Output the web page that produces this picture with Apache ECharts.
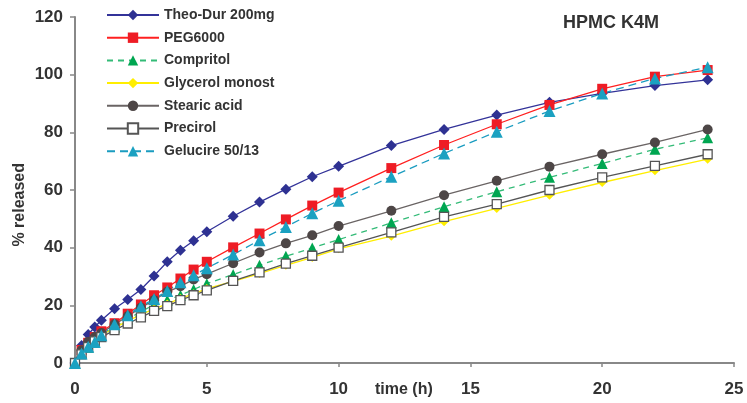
<!DOCTYPE html>
<html>
<head>
<meta charset="utf-8">
<script src="https://cdn.jsdelivr.net/npm/echarts@6/dist/echarts.min.js"></script>
<style>html,body{margin:0;padding:0;background:#fff}#c{width:747px;height:403px}</style>
</head>
<body>
<div id="c"></div>
<script>
const time = [0,0.25,0.5,0.75,1,1.5,2,2.5,3,3.5,4,4.5,5,6,7,8,9,10,12,14,16,18,20,22,24];
const theoDur = [0,6.1,9.9,12.5,14.8,18.8,22.0,25.5,30.2,35.1,39.1,42.4,45.5,50.9,55.8,60.3,64.6,68.2,75.4,81.0,86.0,90.4,93.5,96.2,98.2];
const peg6000 = [0,4.5,7.0,9.0,11.0,13.8,17.1,20.3,23.5,26.2,29.3,32.4,35.1,40.1,44.9,49.8,54.6,59.1,67.6,75.6,82.8,89.5,95.1,99.3,101.6];
const compritol = [0,3.5,5.5,7.5,9.5,12.5,15.2,17.8,20.2,21.8,23.5,25.5,27.5,30.7,33.9,37.0,39.9,42.8,48.6,54.2,59.4,64.4,69.2,74.1,78.1];
const glycerol = [0,3.8,6.2,8.2,9.8,12.2,14.6,16.8,18.8,20.5,22.4,24.0,25.8,28.3,31.0,33.9,36.6,39.6,44.0,49.0,53.6,58.2,62.6,66.7,70.7];
const stearic = [0,4.4,7.3,9.0,10.4,13.4,16.2,19.2,21.8,24.7,26.6,29.0,30.8,34.6,38.3,41.5,44.3,47.5,52.8,58.2,63.2,68.1,72.4,76.5,81.0];
const precirol = [0,3.0,5.5,7.5,9.0,11.4,13.7,15.8,18.1,19.7,21.8,23.5,25.2,28.5,31.4,34.5,37.2,40.0,45.3,50.7,55.1,60.0,64.4,68.4,72.4];
const gelucire = [0,3.3,5.6,7.3,9.6,13.4,16.6,19.7,22.2,25.0,28.0,30.4,32.9,37.6,42.6,47.2,51.9,56.3,64.6,72.7,80.2,87.4,93.5,98.7,102.6];
const seriesNames = ['Theo-Dur 200mg','PEG6000','Compritol','Glycerol monost','Stearic acid','Precirol','Gelucire 50/13'];
const xTicks = [0,5,10,15,20,25];
const yTicks = [0,20,40,60,80,100,120];

function pairs(v){ return time.map((t,i)=>[t,v[i]]); }
const txt = '#333333';
const font = 'Liberation Sans, Arial, sans-serif';

const chart = echarts.init(document.getElementById('c'), null, {renderer:'canvas'});
function mk(name, data, lineColor, lineType, symbol, size, fill, border){
  return {
    name, type:'line', data: pairs(data), symbol, symbolSize: size,
    lineStyle:{color:lineColor, width:1.3, type:lineType},
    itemStyle:{color:fill, borderColor:border||fill, borderWidth: border?1.3:0},
    emphasis:{disabled:true}, animation:false
  };
}
chart.setOption({
  animation:false,
  backgroundColor:'#fff',
  grid:{left:75,right:13,top:17,bottom:40,containLabel:false,outerBoundsMode:'none'},
  title:{text:'HPMC K4M', left:558, top:9, textStyle:{fontFamily:font,fontSize:18,fontWeight:'bold',color:txt}},
  legend:{
    orient:'vertical', left:101, top:3, itemWidth:52, itemHeight:13, itemGap:8.7,
    textStyle:{fontFamily:font,fontSize:14,fontWeight:'bold',color:txt},
    data: seriesNames
  },
  xAxis:{
    type:'value', min:xTicks[0], max:xTicks[xTicks.length-1], interval:5,
    axisLine:{lineStyle:{color:'#888',width:2}},
    axisTick:{show:true,length:4,lineStyle:{color:'#888',width:1.5}},
    axisLabel:{margin:18,fontFamily:font,fontSize:17,fontWeight:'bold',color:txt},
    splitLine:{show:false}
  },
  yAxis:{
    type:'value', min:yTicks[0], max:yTicks[yTicks.length-1], interval:20,
    axisLine:{show:true,lineStyle:{color:'#888',width:2}},
    axisTick:{show:true,length:5,lineStyle:{color:'#888',width:1.5}},
    axisLabel:{margin:12,fontFamily:font,fontSize:17,fontWeight:'bold',color:txt},
    splitLine:{show:false}
  },
  graphic:[
    {type:'text', left:12, top:163, rotation:Math.PI/2,
     style:{text:'% released', fontFamily:font, fontSize:16, fontWeight:'bold', fill:txt}},
    {type:'text', left:375, top:382,
     style:{text:'time (h)', fontFamily:font, fontSize:16, fontWeight:'bold', fill:txt}}
  ],
  series:[
    mk(seriesNames[0], theoDur, '#333399','solid','diamond',11,'#2e3192'),
    mk(seriesNames[1], peg6000, '#ff2020','solid','rect',10,'#ee1c25'),
    mk(seriesNames[2], compritol, '#33bb77',[6,5],'triangle',11,'#00a651'),
    mk(seriesNames[3], glycerol, '#ffee00','solid','diamond',9,'#ffee00'),
    mk(seriesNames[4], stearic, '#6a6464','solid','circle',10,'#4d4646'),
    mk(seriesNames[5], precirol, '#555555','solid','rect',9,'#ffffff','#555555'),
    mk(seriesNames[6], gelucire, '#1a9cc0',[8,5],'triangle',12,'#1ba1c1')
  ]
});
</script>
</body>
</html>
